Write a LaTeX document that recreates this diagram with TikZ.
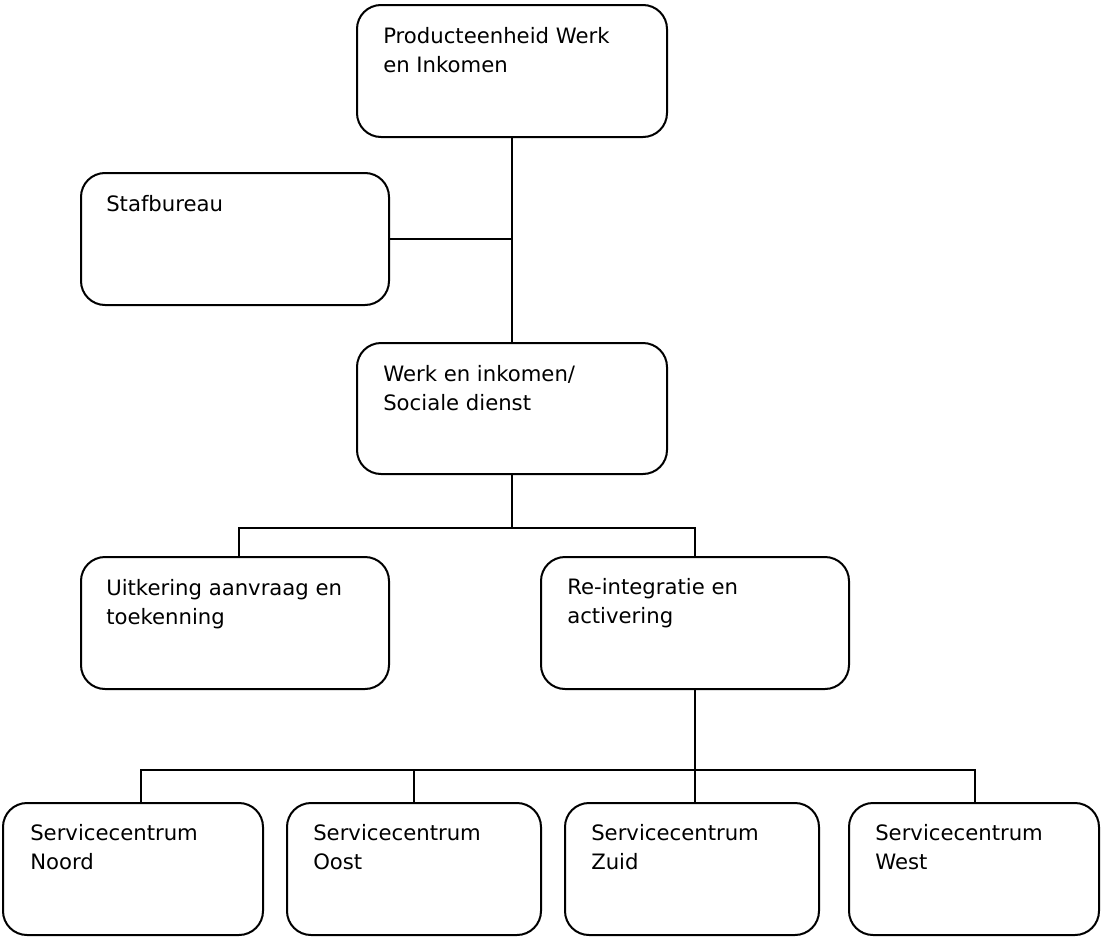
\documentclass[tikz,border=0pt]{standalone}
\usepackage{fontspec}
\setmainfont{DejaVu Sans}
\begin{document}
\begin{tikzpicture}[x=0.75pt,y=-0.75pt,
  orgbox/.style={draw, line width=1.5pt, rounded corners=18pt, inner sep=0pt, minimum height=99pt, anchor=north west},
  orgtext/.style={anchor=base west, inner sep=0pt, align=left, font=\fontsize{15.9}{21.75}\selectfont},
  conn/.style={line width=1.5pt}]
\useasboundingbox (0,0) rectangle (1101,939);
% boxes
\node[orgbox, minimum width=232.5pt] (top) at (356,4) {};
\node[orgbox, minimum width=231pt] (staf) at (80,172) {};
\node[orgbox, minimum width=232.5pt, minimum height=98.25pt] (mid) at (356,342) {};
\node[orgbox, minimum width=231pt] (uit) at (80,556) {};
\node[orgbox, minimum width=231pt] (rei) at (540,556) {};
\node[orgbox, minimum width=195pt] (noord) at (2,802) {};
\node[orgbox, minimum width=190.5pt] (oost) at (286,802) {};
\node[orgbox, minimum width=190.5pt] (zuid) at (564,802) {};
\node[orgbox, minimum width=187.5pt] (west) at (848,802) {};
% texts (base anchor = baseline of the last line)
\node[orgtext] (top-t) at ([xshift=20.25pt,yshift=-51pt]top.north west) {Producteenheid Werk\\en Inkomen};
\node[orgtext] (staf-t) at ([xshift=19.5pt,yshift=-29.25pt]staf.north west) {Stafbureau};
\node[orgtext] (mid-t) at ([xshift=20.25pt,yshift=-51pt]mid.north west) {Werk en inkomen/\\Sociale dienst};
\node[orgtext] (uit-t) at ([xshift=19.5pt,yshift=-51pt]uit.north west) {Uitkering aanvraag en\\toekenning};
\node[orgtext] (rei-t) at ([xshift=20.25pt,yshift=-50.25pt]rei.north west) {Re-integratie en\\activering};
\node[orgtext] (noord-t) at ([xshift=21pt,yshift=-50.25pt]noord.north west) {Servicecentrum\\Noord};
\node[orgtext] (oost-t) at ([xshift=20.25pt,yshift=-50.25pt]oost.north west) {Servicecentrum\\Oost};
\node[orgtext] (zuid-t) at ([xshift=20.25pt,yshift=-50.25pt]zuid.north west) {Servicecentrum\\Zuid};
\node[orgtext] (west-t) at ([xshift=20.25pt,yshift=-50.25pt]west.north west) {Servicecentrum\\West};
% connectors
\draw[conn] (top.south) -- (mid.north);
\draw[conn] (staf.east) -- (staf.east -| top.south);
\coordinate (bar1) at ([yshift=-39.75pt]mid.south);
\draw[conn] (mid.south) -- (bar1);
\draw[conn] ([xshift=3pt]uit.north) |- (rei.north |- bar1) -- (rei.north);
\coordinate (bar2) at ([yshift=-60pt]rei.south);
\draw[conn] (rei.south) -- (bar2);
\draw[conn] ([xshift=6pt]noord.north) |- ([xshift=0.75pt]west.north |- bar2) -- ([xshift=0.75pt]west.north);
\draw[conn] (oost.north) -- (oost.north |- bar2);
\draw[conn] ([xshift=2.25pt]zuid.north) -- ([xshift=2.25pt]zuid.north |- bar2);
\end{tikzpicture}
\end{document}
